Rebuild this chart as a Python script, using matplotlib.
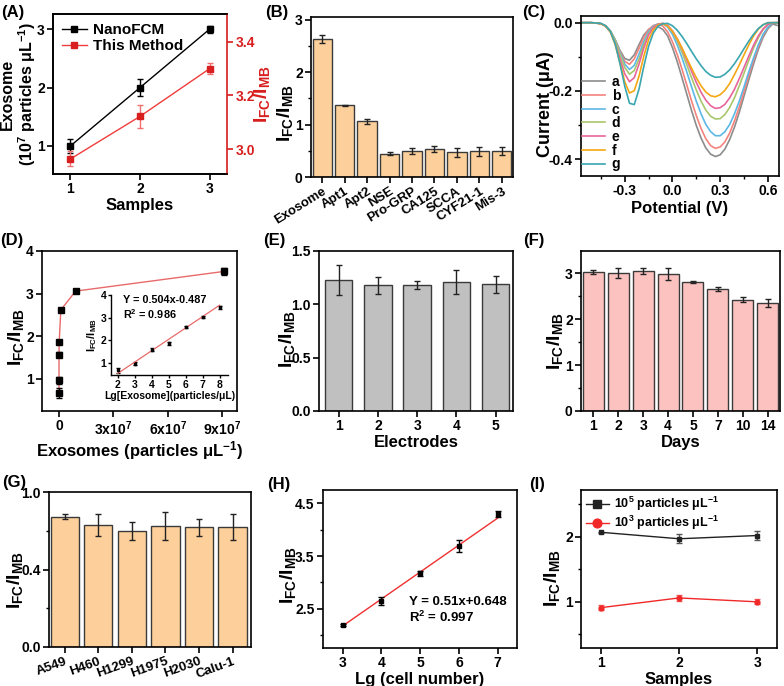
import numpy as np
import matplotlib
matplotlib.use("Agg")
from matplotlib import pyplot as plt
from matplotlib.ticker import AutoMinorLocator, FormatStrFormatter

plt.rcParams["font.family"] = ["Liberation Sans", "DejaVu Sans"]
plt.rcParams["font.weight"] = "bold"
plt.rcParams["axes.labelweight"] = "bold"
plt.rcParams["mathtext.fontset"] = "custom"
plt.rcParams["mathtext.rm"] = "Liberation Sans:bold"
plt.rcParams["mathtext.it"] = "Liberation Sans:bold"
plt.rcParams["mathtext.bf"] = "Liberation Sans:bold"
plt.rcParams["mathtext.default"] = "bf"

IR = r"$I_{FC}/I_{MB}$"

# (A) comparison with NanoFCM
samples = [1, 2, 3]
nanofcm = [1.0, 2.0, 3.0]
nanofcm_err = [0.12, 0.15, 0.06]
method = [2.963, 3.122, 3.300]
method_err = [0.028, 0.042, 0.020]

# (B) selectivity
targets = ["Exosome", "Apt1", "Apt2", "NSE", "Pro-GRP", "CA125", "SCCA", "CYF21-1", "Mis-3"]
target_ratio = [2.63, 1.37, 1.06, 0.44, 0.50, 0.53, 0.47, 0.49, 0.50]
target_err = [0.07, 0.01, 0.05, 0.03, 0.06, 0.06, 0.08, 0.09, 0.08]

# (C) DPV curves
potential = [-0.57, -0.54, -0.51, -0.48, -0.45, -0.42, -0.39, -0.36, -0.33, -0.30,
             -0.27, -0.24, -0.21, -0.18, -0.15, -0.12, -0.09, -0.06, -0.03, 0.00,
             0.03, 0.06, 0.09, 0.12, 0.15, 0.18, 0.21, 0.24, 0.27, 0.30,
             0.33, 0.36, 0.39, 0.42, 0.45, 0.48, 0.51, 0.54, 0.57, 0.60, 0.63, 0.66]
cur_a = [0, 0, 0, -0.001, -0.003, -0.010, -0.025, -0.050, -0.081, -0.105,
         -0.110, -0.094, -0.064, -0.036, -0.020, -0.013, -0.012, -0.020, -0.039, -0.073,
         -0.114, -0.161, -0.209, -0.257, -0.301, -0.338, -0.367, -0.385, -0.392, -0.387,
         -0.370, -0.342, -0.306, -0.263, -0.215, -0.167, -0.121, -0.078, -0.043, -0.018, -0.004, -0.008]
cur_b = [0, 0, 0, -0.001, -0.003, -0.010, -0.025, -0.051, -0.084, -0.113,
         -0.122, -0.106, -0.075, -0.043, -0.020, -0.008, -0.004, -0.010, -0.027, -0.056,
         -0.093, -0.136, -0.182, -0.229, -0.272, -0.310, -0.340, -0.360, -0.368, -0.364,
         -0.349, -0.323, -0.288, -0.247, -0.201, -0.154, -0.110, -0.070, -0.037, -0.014, -0.002, 0]
cur_c = [0, 0, 0, -0.001, -0.003, -0.009, -0.024, -0.050, -0.087, -0.121,
         -0.137, -0.125, -0.092, -0.055, -0.026, -0.010, -0.004, -0.003, -0.013, -0.034,
         -0.065, -0.103, -0.144, -0.188, -0.230, -0.267, -0.298, -0.319, -0.331, -0.331,
         -0.319, -0.298, -0.267, -0.230, -0.188, -0.144, -0.103, -0.065, -0.034, -0.013, -0.001, 0]
cur_d = [0, 0, 0, -0.001, -0.003, -0.009, -0.024, -0.052, -0.092, -0.131,
         -0.151, -0.140, -0.106, -0.064, -0.032, -0.013, -0.004, -0.002, -0.009, -0.027,
         -0.053, -0.086, -0.123, -0.161, -0.197, -0.230, -0.256, -0.274, -0.282, -0.281,
         -0.269, -0.248, -0.220, -0.185, -0.148, -0.110, -0.074, -0.044, -0.020, -0.005, 0, 0]
cur_e = [0, 0, 0, -0.001, -0.003, -0.010, -0.027, -0.060, -0.105, -0.150,
         -0.173, -0.161, -0.121, -0.074, -0.036, -0.014, -0.005, -0.002, -0.008, -0.024,
         -0.047, -0.076, -0.109, -0.142, -0.175, -0.204, -0.227, -0.243, -0.251, -0.249,
         -0.239, -0.220, -0.195, -0.164, -0.131, -0.098, -0.066, -0.039, -0.018, -0.005, 0, 0]
cur_f = [0, 0, 0, -0.001, -0.003, -0.010, -0.028, -0.064, -0.117, -0.173,
         -0.206, -0.199, -0.156, -0.098, -0.050, -0.021, -0.007, -0.003, -0.010, -0.025,
         -0.047, -0.074, -0.104, -0.133, -0.161, -0.185, -0.203, -0.214, -0.217, -0.211,
         -0.198, -0.178, -0.152, -0.124, -0.094, -0.065, -0.039, -0.019, -0.006, 0, 0, 0]
cur_g = [0, 0, 0, -0.001, -0.002, -0.009, -0.026, -0.062, -0.120, -0.186,
         -0.236, -0.240, -0.194, -0.128, -0.069, -0.030, -0.010, -0.003, -0.002, -0.009,
         -0.022, -0.040, -0.061, -0.084, -0.106, -0.126, -0.143, -0.154, -0.160, -0.159,
         -0.151, -0.138, -0.120, -0.099, -0.076, -0.054, -0.034, -0.017, -0.006, 0, 0, 0]
curve_names = ["a", "b", "c", "d", "e", "f", "g"]
curve_colors = ["#8c8c8c", "#f4837d", "#5cb8e6", "#a8c66c", "#e8649a", "#f5a714", "#3aa6b0"]

# (D) calibration
exo_conc = [1e2, 1e3, 1e4, 1e5, 1e6, 0.92e7, 9.1e7]
exo_ratio = [0.68, 0.97, 1.57, 1.86, 2.62, 3.06, 3.52]
exo_err = [0.12, 0.08, 0.06, 0.05, 0.05, 0.05, 0.09]
lg_exo = [2, 3, 4, 5, 6, 7, 8]
lg_ratio = [0.66, 0.96, 1.58, 1.85, 2.59, 3.04, 3.46]
lg_err = [0.10, 0.05, 0.07, 0.05, 0.04, 0.05, 0.07]
fit_d = (0.504, -0.487)

# (E) reproducibility
electrodes = ["1", "2", "3", "4", "5"]
elec_ratio = [1.23, 1.18, 1.18, 1.21, 1.19]
elec_err = [0.14, 0.08, 0.04, 0.11, 0.08]

# (F) stability
days = ["1", "2", "3", "4", "5", "7", "10", "14"]
day_ratio = [3.02, 3.00, 3.04, 2.97, 2.81, 2.65, 2.42, 2.35]
day_err = [0.05, 0.10, 0.06, 0.13, 0.02, 0.05, 0.06, 0.08]

# (G) cell lines
cells = ["A549", "H460", "H1299", "H1975", "H2030", "Calu-1"]
cell_ratio = [0.84, 0.788, 0.75, 0.783, 0.773, 0.775]
cell_err = [0.016, 0.07, 0.057, 0.09, 0.056, 0.084]

# (H) cell number
lg_cell = [3, 4, 5, 6, 7]
cell_num_ratio = [2.20, 2.65, 3.17, 3.69, 4.29]
cell_num_err = [0.02, 0.08, 0.04, 0.11, 0.06]
fit_h = (0.51, 0.648)

# (I) real samples
real_samples = [1, 2, 3]
high_ratio = [2.07, 1.97, 2.02]
high_err = [0.01, 0.07, 0.07]
low_ratio = [0.91, 1.06, 1.00]
low_err = [0.04, 0.05, 0.04]

TICK = 10
LAB = 12
IRS = 14
W, H = 784, 686


def box(left, top, right, bottom):
    return [left / W, 1 - bottom / H, (right - left) / W, (bottom - top) / H]


def style(ax, fs=TICK, lw=1.2):
    for s in ax.spines.values():
        s.set_linewidth(lw)
    ax.tick_params(direction="out", length=4, width=lw, labelsize=fs, top=False, right=False, pad=2)
    ax.tick_params(which="minor", direction="out", length=2.5, width=1)


def ylab(ax, text, xpos, ypos=0.44, size=IRS, **kw):
    ax.set_ylabel(text, fontsize=size, va="center", **kw)
    ax.yaxis.set_label_coords(xpos, ypos)


def bars(ax, labels, vals, errs, color, width):
    x = np.arange(len(vals))
    ax.bar(x, vals, width=width, color=color, edgecolor="#3a3a3a", linewidth=1.0,
           yerr=errs, error_kw=dict(ecolor="#222222", elinewidth=1, capsize=2, capthick=1))
    ax.set_xticks(x)
    ax.set_xticklabels(labels)
    return x


fig = plt.figure(figsize=(7.84, 6.86), dpi=100)

# ---- (A)
ax = fig.add_axes(box(53, 14, 227, 174))
style(ax)
h1 = ax.errorbar(samples, nanofcm, yerr=nanofcm_err, color="black", marker="s", ms=4.5, lw=1,
                 capsize=2, elinewidth=1)
ax.set_xlim(0.75, 3.25)
ax.set_ylim(0.52, 3.26)
ax.set_xticks(samples)
ax.set_yticks([1, 2, 3])
ax.set_xlabel("Samples", fontsize=LAB, labelpad=1)
ylab(ax, "Exosome\n(10$^7$ particles μL$^{-1}$)", -0.195, ypos=0.5, size=11.5, linespacing=1.05)
ax.spines["right"].set_visible(False)
ax2 = ax.twinx()
red = "#d81e1e"
h2 = ax2.errorbar(samples, method, yerr=method_err, color="#f03c3c", marker="s", ms=4.5, lw=1,
                  mfc=red, mec=red, capsize=2, elinewidth=1, ecolor="#f07070")
ax2.set_ylim(2.907, 3.504)
ax2.set_yticks([3.0, 3.2, 3.4])
ax2.yaxis.set_major_formatter(FormatStrFormatter("%.1f"))
for s in ax2.spines.values():
    s.set_linewidth(1.2)
ax2.spines["right"].set_color(red)
ax2.tick_params(axis="y", colors=red, labelsize=TICK, width=1.2, length=4, pad=2)
ylab(ax2, IR, 1.2, ypos=0.5, color=red)
ax.legend([h1.lines[0], h2.lines[0]], ["NanoFCM", "This Method"], loc="upper left",
          frameon=False, fontsize=11, handlelength=1.6, borderaxespad=0.2, labelspacing=0.15,
          handletextpad=0.4)

# ---- (B)
ax = fig.add_axes(box(311, 17, 513, 177))
style(ax)
bars(ax, targets, target_ratio, target_err, "#fdd09b", 0.86)
ax.set_xlim(-0.5, len(targets) - 0.5)
ax.set_ylim(0, 3.05)
ax.set_yticks([0, 1, 2, 3])
ax.yaxis.set_minor_locator(AutoMinorLocator(2))
plt.setp(ax.get_xticklabels(), rotation=32, ha="right", rotation_mode="anchor")
ax.tick_params(axis="x", labelsize=9.5)
ylab(ax, IR, -0.13, ypos=0.4)

# ---- (C)
ax = fig.add_axes(box(581, 16, 779, 176))
style(ax)
for ys, name, col in zip([cur_a, cur_b, cur_c, cur_d, cur_e, cur_f, cur_g], curve_names, curve_colors):
    ax.plot(potential, ys, color=col, lw=1.2, label=name)
ax.set_xlim(-0.575, 0.67)
ax.set_ylim(-0.449, 0.0196)
ax.set_xticks([-0.3, 0.0, 0.3, 0.6])
ax.set_yticks([0.0, -0.2, -0.4])
ax.xaxis.set_major_formatter(FormatStrFormatter("%.1f"))
ax.yaxis.set_major_formatter(FormatStrFormatter("%.1f"))
ax.xaxis.set_minor_locator(AutoMinorLocator(2))
ax.yaxis.set_minor_locator(AutoMinorLocator(2))
ax.set_xlabel("Potential (V)", fontsize=LAB, labelpad=2)
ylab(ax, "Current (μA)", -0.18, ypos=0.45, size=13)
ax.legend(loc="lower left", bbox_to_anchor=(0.0, 0.02), frameon=False, fontsize=10,
          handlelength=1.6, labelspacing=-0.02, handletextpad=0.5, borderaxespad=0,
          borderpad=0.1)

# ---- (D)
ax = fig.add_axes(box(42, 251, 237, 411))
style(ax)
ax.plot(exo_conc, exo_ratio, color="#e86a6a", lw=1)
ax.errorbar(exo_conc, exo_ratio, yerr=exo_err, fmt="s", color="black", ms=4, capsize=2, elinewidth=1)
ax.set_xlim(-0.94e7, 9.84e7)
ax.set_ylim(0.25, 4.0)
ax.set_xticks([0, 3e7, 6e7, 9e7])
ax.set_xticklabels(["0", "3x10$^7$", "6x10$^7$", "9x10$^7$"])
ax.set_yticks([1, 2, 3, 4])
ax.set_xlabel("Exosomes (particles μL$^{-1}$)", fontsize=LAB, labelpad=1)
ylab(ax, IR, -0.135, ypos=0.46)

axi = fig.add_axes(box(111, 295, 228, 375))
axi.patch.set_alpha(0)
axi.spines["top"].set_visible(False)
axi.spines["right"].set_visible(False)
style(axi, fs=7.5, lw=1)
axi.tick_params(length=2.5, pad=1)
axi.errorbar(lg_exo, lg_ratio, yerr=lg_err, fmt="s", color="black", ms=2, capsize=1.2, elinewidth=0.8)
axi.plot([lg_exo[0], lg_exo[-1]], [fit_d[0] * lg_exo[0] + fit_d[1], fit_d[0] * lg_exo[-1] + fit_d[1]],
         color="#e86a6a", lw=0.9)
axi.set_xlim(1.6, 8.5)
axi.set_ylim(0.45, 4.0)
axi.set_xticks(lg_exo)
axi.set_yticks([1, 2, 3, 4])
axi.set_xlabel("Lg[Exosome](particles/μL)", fontsize=7.5, labelpad=1)
axi.set_ylabel(IR, fontsize=8, labelpad=1)
axi.text(0.1, 1.0, "Y = %.3fx%.3f\nR$^2$ = 0.986" % fit_d, transform=axi.transAxes,
         fontsize=7.8, va="top", ha="left", linespacing=1.2)

# ---- (E)
ax = fig.add_axes(box(319, 251, 513, 411))
style(ax)
bars(ax, electrodes, elec_ratio, elec_err, "#c0c0c0", 0.7)
ax.set_xlim(-0.5, len(electrodes) - 0.56)
ax.set_ylim(0, 1.5)
ax.set_yticks([0, 0.5, 1.0, 1.5])
ax.yaxis.set_major_formatter(FormatStrFormatter("%.1f"))
ax.set_xlabel("Electrodes", fontsize=LAB, labelpad=1)
ylab(ax, IR, -0.165, ypos=0.45)

# ---- (F)
ax = fig.add_axes(box(581, 251, 780, 411))
style(ax)
bars(ax, days, day_ratio, day_err, "#fbc2c0", 0.84)
ax.set_xlim(-0.5, len(days) - 0.5)
ax.set_ylim(0, 3.48)
ax.set_yticks([0, 1, 2, 3])
ax.yaxis.set_minor_locator(AutoMinorLocator(2))
ax.set_xlabel("Days", fontsize=LAB, labelpad=1)
ylab(ax, IR, -0.13)

# ---- (G)
ax = fig.add_axes(box(49, 492, 251, 647))
style(ax)
bars(ax, cells, cell_ratio, cell_err, "#fdd09b", 0.84)
ax.set_xlim(-0.47, len(cells) - 0.45)
ax.set_ylim(0, 1.0)
ax.set_yticks([0, 0.5, 1.0])
ax.set_yticklabels(["0.0", "0.4", "1.0"])
ax.yaxis.set_minor_locator(AutoMinorLocator(2))
plt.setp(ax.get_xticklabels(), rotation=20, ha="right", rotation_mode="anchor")
ax.tick_params(axis="x", labelsize=9.5)
ylab(ax, IR, -0.17, ypos=0.43)

# ---- (H)
ax = fig.add_axes(box(323, 490, 517, 648))
style(ax)
ax.plot([lg_cell[0], lg_cell[-1]], [fit_h[0] * lg_cell[0] + fit_h[1], fit_h[0] * lg_cell[-1] + fit_h[1]],
        color="#f03030", lw=1)
ax.errorbar(lg_cell, cell_num_ratio, yerr=cell_num_err, fmt="s", color="black", ms=3.5,
            capsize=2, elinewidth=1)
ax.set_xlim(2.49, 7.5)
ax.set_ylim(1.76, 4.75)
ax.set_xticks(lg_cell)
ax.set_yticks([2.5, 3.5, 4.5])
ax.yaxis.set_minor_locator(AutoMinorLocator(2))
ax.set_xlabel("Lg (cell number)", fontsize=LAB, labelpad=1)
ylab(ax, IR, -0.18, ypos=0.46)
ax.text(0.443, 0.33, "Y = %.2fx+%.3f\nR$^2$ = 0.997" % fit_h, transform=ax.transAxes,
        fontsize=9.5, va="top", ha="left", linespacing=1.2)

# ---- (I)
ax = fig.add_axes(box(581, 490, 777, 648))
style(ax)
hb = ax.errorbar(real_samples, high_ratio, yerr=high_err, color="#222222", marker="s", ms=3, lw=1,
                 capsize=2, elinewidth=1, ecolor="#555555")
hr = ax.errorbar(real_samples, low_ratio, yerr=low_err, color="#f02828", marker="o", ms=3.5, lw=1,
                 capsize=2, elinewidth=1, ecolor="#f06060")
ax.set_xlim(0.75, 3.25)
ax.set_ylim(0.29, 2.72)
ax.set_xticks(real_samples)
ax.set_yticks([1, 2])
ax.yaxis.set_minor_locator(AutoMinorLocator(2))
ax.set_xlabel("Samples", fontsize=LAB, labelpad=1)
ylab(ax, IR, -0.15)
ax.legend([hb.lines[0], hr.lines[0]], ["10$^5$ particles μL$^{-1}$", "10$^3$ particles μL$^{-1}$"],
          loc="upper left", frameon=False, fontsize=9, markerscale=1.8, handlelength=1.8,
          labelspacing=0.05, handletextpad=0.4, borderaxespad=0.2, borderpad=0.2)

# panel letters
for lab, (px, py) in zip("ABCDEFGHI", [(13, 13), (277, 12), (534, 12), (12, 240), (274, 240),
                                        (534, 240), (14, 483), (279, 484), (537, 484)]):
    fig.text(px / W, 1 - py / H, "(%s)" % lab, fontsize=12, ha="center", va="center")

fig.savefig("out.png", dpi=100)
